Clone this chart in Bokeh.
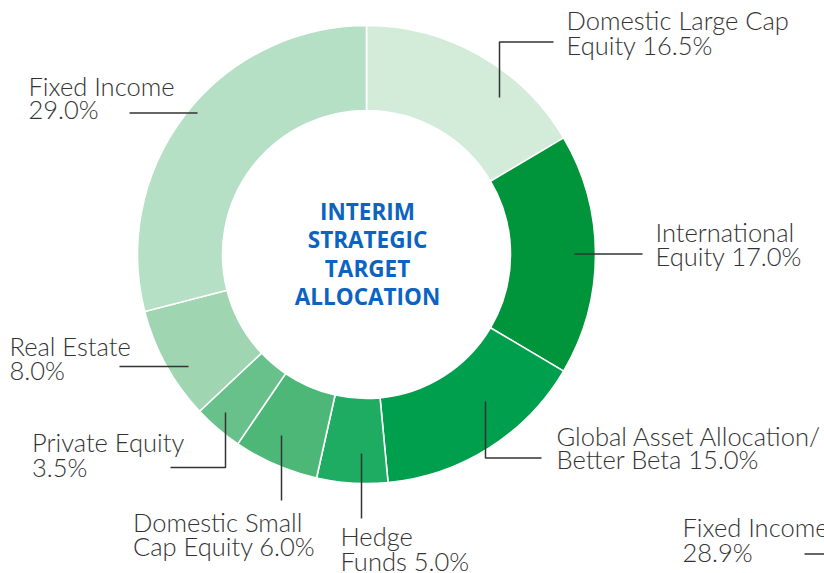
from bokeh.plotting import figure
from bokeh.models import Range1d, ColumnDataSource
from bokeh.core.properties import value
from bokeh.embed import file_html
from bokeh.resources import INLINE
import math

# ---- data ----
categories = ["Domestic Large Cap Equity", "International Equity",
              "Global Asset Allocation/ Better Beta", "Hedge Funds",
              "Domestic Small Cap Equity", "Private Equity", "Real Estate",
              "Fixed Income"]
values = [16.5, 17.0, 15.0, 5.0, 6.0, 3.5, 8.0, 29.0]
label_line1 = ["Domestic Large Cap", "International", "Global Asset Allocation/",
               "Hedge", "Domestic Small", "Private Equity", "Real Estate",
               "Fixed Income"]
label_line2 = ["Equity 16.5%", "Equity 17.0%", "Better Beta 15.0%",
               "Funds 5.0%", "Cap Equity 6.0%", "3.5%", "8.0%", "29.0%"]
title_lines = ["INTERIM", "STRATEGIC", "TARGET", "ALLOCATION"]
extra_line1 = ["Fixed Income"]
extra_line2 = ["28.9%"]

# ---- styles / layout ----
colors = ["#d3ebd9", "#00953a", "#009f4d", "#1eab62", "#4cb777",
          "#68c18b", "#9fd6b1", "#b5e0c5"]
H = 573  # reference canvas height (pixel coords -> data coords)
TXT_SHIFT = 8.5  # compensate renderer baseline offset

def Y(y):
    return H - y

cx, cy = 366, Y(254)
r_in, r_out = 144, 229

p = figure(width=824, height=573, output_backend="svg", toolbar_location=None,
           x_range=Range1d(0, 824), y_range=Range1d(0, 573),
           x_axis_location=None, y_axis_location=None, min_border=0)
p.grid.visible = False
p.outline_line_color = None
p.background_fill_color = "white"
p.border_fill_color = "white"

# wedges clockwise from 12 o'clock
total = sum(values)
starts, ends = [], []
cum = 0.0
for v in values:
    a0 = math.pi / 2 - 2 * math.pi * cum / total
    cum += v
    a1 = math.pi / 2 - 2 * math.pi * cum / total
    starts.append(a1)
    ends.append(a0)

src = ColumnDataSource(dict(cat=categories, val=values, start=starts, end=ends,
                            color=colors))
p.annular_wedge(x=cx, y=cy, inner_radius=r_in, outer_radius=r_out,
                start_angle="start", end_angle="end", source=src,
                fill_color="color", line_color="white", line_width=1.6)

# leader lines (reference pixel coords)
leaders = [
    ([499, 499, 553], [97, 41.5, 41.5]),
    ([574, 642], [253.5, 253.5]),
    ([485, 485, 541], [401, 457.5, 457.5]),
    ([361, 361], [453, 518]),
    ([281, 281], [435, 500]),
    ([225, 225, 170], [412, 467, 467]),
    ([188, 119], [366, 366]),
    ([197, 129], [112.5, 112.5]),
    ([804, 830], [553.5, 553.5]),
]
p.multi_line(xs=[l[0] for l in leaders],
             ys=[[Y(v) for v in l[1]] for l in leaders],
             line_color="#333333", line_width=1.5)

# label positions (x, baseline1, baseline2) in reference pixels
label_pos = [(566, 28, 52.5), (655, 240, 264), (556, 443.5, 467),
             (340, 544, 568.5), (132.5, 530, 554), (31.5, 450, 474.5),
             (9, 353.5, 378), (28, 93.5, 117)]
lx = [q[0] for q in label_pos] + [682]
ly1 = [Y(q[1] - TXT_SHIFT) for q in label_pos] + [Y(535 - TXT_SHIFT)]
ly2 = [Y(q[2] - TXT_SHIFT) for q in label_pos] + [Y(559.5 - TXT_SHIFT)]
font = value("Lato Light")
fs = "25.5px"
p.text(x=lx, y=ly1, text=label_line1 + extra_line1, text_font=font,
       text_font_size=fs, text_color="#333333", text_baseline="alphabetic",
       text_align="left")
p.text(x=lx, y=ly2, text=label_line2 + extra_line2, text_font=font,
       text_font_size=fs, text_color="#333333", text_baseline="alphabetic",
       text_align="left")

# center title
tb = [219.5, 247.5, 276, 304.5]
p.text(x=[367] * 4, y=[Y(b - TXT_SHIFT) for b in tb], text=title_lines,
       text_font=value("Open Sans"), text_font_style="bold",
       text_font_size="22.5px", text_color="#0b63c2",
       text_baseline="alphabetic", text_align="center")

open("out.html", "w").write(file_html(p, INLINE))
